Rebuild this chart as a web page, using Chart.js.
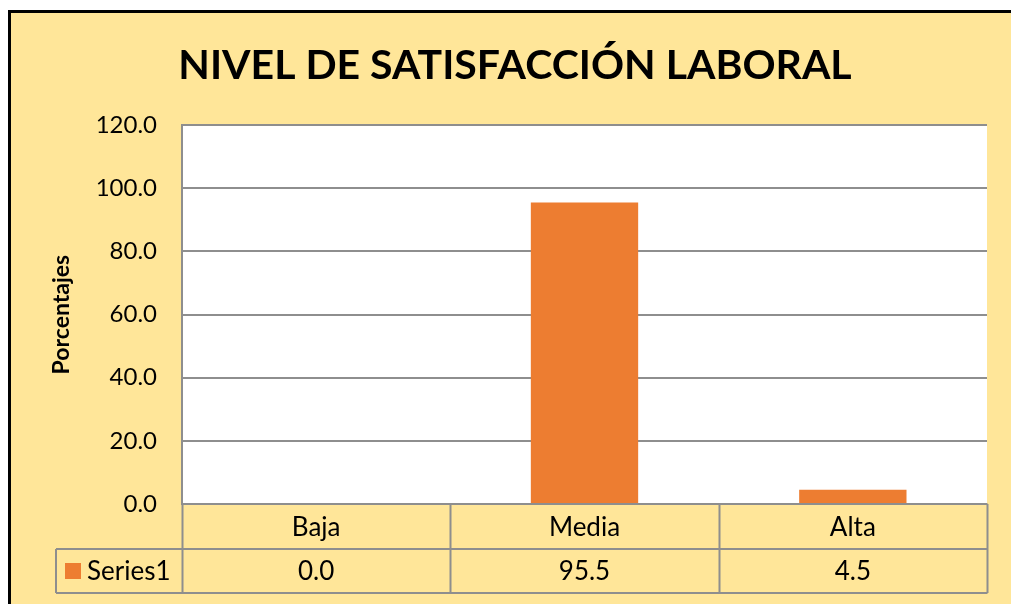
<!DOCTYPE html>
<html>
<head>
<meta charset="utf-8">
<script src="https://cdn.jsdelivr.net/npm/chart.js@4.4.0/dist/chart.umd.min.js"></script>
<style>
    body { margin: 0; background: #ffffff; }
    #wrap { width: 1011px; height: 604px; }
</style>
</head>
<body>
<div id="wrap"><canvas id="chartNivel" width="1011" height="604"></canvas></div>
<script>
// datos del grafico
const categories = ["Baja", "Media", "Alta"];
const seriesName = "Series1";
const seriesValues = [0.0, 95.5, 4.5];
const yTickMin = 0;
const yTickMax = 120;
const yTickStep = 20;

const fontFamily = "Lato, 'Open Sans', sans-serif";
const colorBar = "#ED7D31";
const colorBack = "#FFE699";
const colorLine = "#8E8E8E";

// fondo amarillo + borde negro + area blanca
const backgroundPlugin = {
    id: "backgroundPlugin",
    beforeDraw: function(chart) {
        var ctx = chart.ctx;
        var area = chart.chartArea;
        ctx.save();
        ctx.fillStyle = "#ffffff";
        ctx.fillRect(0, 0, chart.width, chart.height);
        ctx.fillStyle = colorBack;
        ctx.fillRect(9, 11, chart.width - 9, chart.height - 11);
        ctx.strokeStyle = "#000000";
        ctx.lineWidth = 3;
        ctx.beginPath();
        ctx.moveTo(9.5, chart.height);
        ctx.lineTo(9.5, 11.5);
        ctx.lineTo(chart.width, 11.5);
        ctx.stroke();
        ctx.fillStyle = "#ffffff";
        ctx.fillRect(area.left, area.top, area.right - area.left, area.bottom - area.top);
        ctx.restore();
    }
};

// tabla de datos debajo del grafico
const dataTablePlugin = {
    id: "dataTablePlugin",
    afterDraw: function(chart) {
        var ctx = chart.ctx;
        var area = chart.chartArea;
        var xScale = chart.scales.x;
        var row1 = area.bottom + 45;
        var row2 = area.bottom + 89;
        var legendLeft = 56;

        var edges = [];
        for (var i = 0; i <= categories.length; i++) {
            edges.push(Math.round(xScale.getPixelForValue(i - 0.5)) + 0.5);
        }

        ctx.save();
        ctx.strokeStyle = colorLine;
        ctx.lineWidth = 2;
        ctx.beginPath();
        ctx.moveTo(edges[0], area.bottom);
        ctx.lineTo(edges[edges.length - 1], area.bottom);
        ctx.moveTo(legendLeft, row1);
        ctx.lineTo(edges[edges.length - 1], row1);
        ctx.moveTo(legendLeft, row2);
        ctx.lineTo(edges[edges.length - 1], row2);
        for (var j = 0; j < edges.length; j++) {
            ctx.moveTo(edges[j], area.bottom);
            ctx.lineTo(edges[j], row2);
        }
        ctx.moveTo(legendLeft, row1);
        ctx.lineTo(legendLeft, row2);
        ctx.stroke();

        ctx.fillStyle = "#000000";
        ctx.font = "26px " + fontFamily;
        ctx.textAlign = "center";
        ctx.textBaseline = "middle";
        for (var k = 0; k < categories.length; k++) {
            var cx = xScale.getPixelForValue(k);
            ctx.fillText(categories[k], cx, (area.bottom + row1) / 2 + 1);
            ctx.fillText(seriesValues[k].toFixed(1), cx, (row1 + row2) / 2 + 1);
        }

        // leyenda
        ctx.fillStyle = colorBar;
        ctx.fillRect(legendLeft + 9, (row1 + row2) / 2 - 8, 16, 16);
        ctx.fillStyle = "#000000";
        ctx.textAlign = "left";
        ctx.fillText(seriesName, legendLeft + 31, (row1 + row2) / 2 + 1);
        ctx.restore();
    }
};

const ctxNivel = document.getElementById("chartNivel").getContext("2d");
new Chart(ctxNivel, {
    type: "bar",
    data: {
        labels: categories,
        datasets: [{
            label: seriesName,
            data: seriesValues,
            backgroundColor: colorBar,
            borderWidth: 0,
            categoryPercentage: 0.8,
            barPercentage: 0.5
        }]
    },
    options: {
        responsive: false,
        animation: false,
        devicePixelRatio: 1,
        layout: {
            padding: { left: 43, right: 24, top: 14, bottom: 100 }
        },
        plugins: {
            legend: { display: false },
            tooltip: { enabled: false },
            title: {
                display: true,
                text: "NIVEL DE SATISFACCIÓN LABORAL",
                color: "#000000",
                font: { family: fontFamily, size: 41, weight: "bold" },
                padding: { top: 27, bottom: 35 }
            }
        },
        scales: {
            x: {
                display: false
            },
            y: {
                min: yTickMin,
                max: yTickMax,
                afterFit: function(scale) {
                    scale.width = 139;
                },
                ticks: {
                    stepSize: yTickStep,
                    color: "#000000",
                    padding: 25,
                    font: { family: fontFamily, size: 24 },
                    callback: function(value) {
                        return Number(value).toFixed(1);
                    }
                },
                grid: {
                    color: colorLine,
                    lineWidth: 2,
                    drawTicks: false
                },
                border: {
                    color: colorLine,
                    width: 2
                },
                title: {
                    display: true,
                    text: "Porcentajes",
                    color: "#000000",
                    font: { family: fontFamily, size: 23, weight: "bold" },
                    padding: { top: 5, bottom: 0 }
                }
            }
        }
    },
    plugins: [backgroundPlugin, dataTablePlugin]
});
</script>
</body>
</html>
